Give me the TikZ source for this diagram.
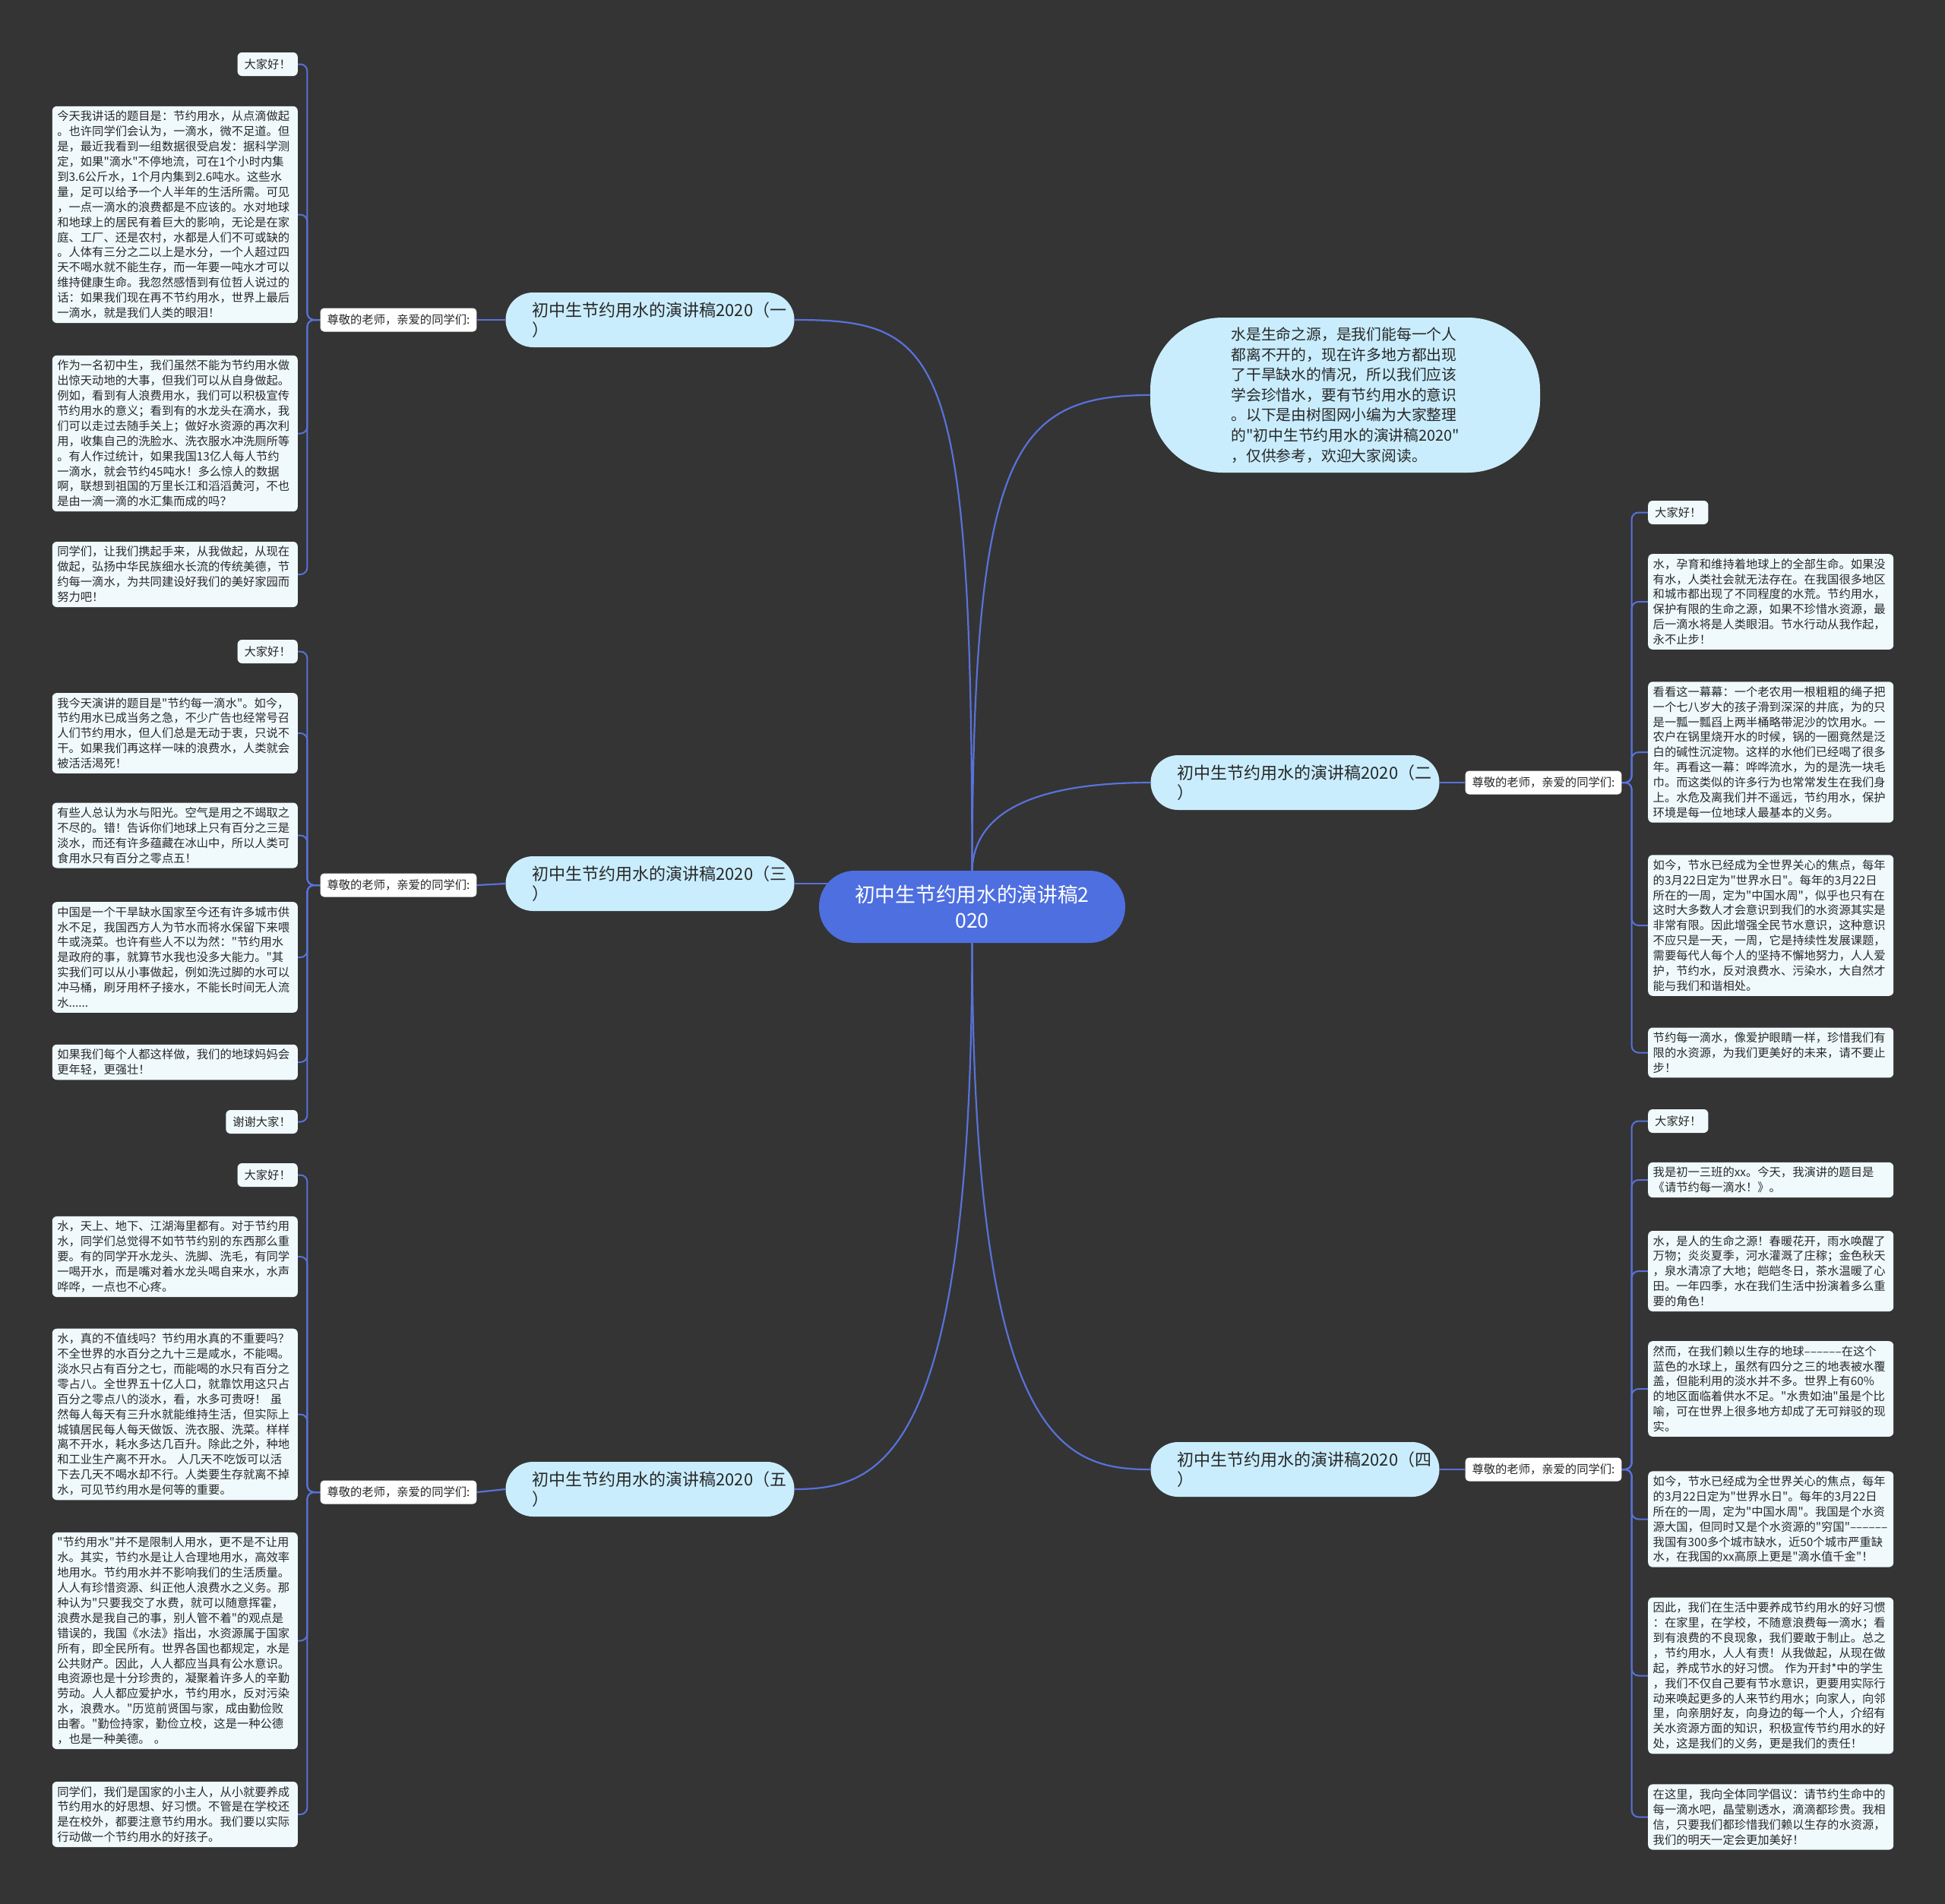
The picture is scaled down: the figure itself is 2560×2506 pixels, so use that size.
\documentclass[tikz,border=0pt]{standalone}
\usepackage{fontspec}
\newfontfamily\cjkfont{Noto Sans CJK SC}
\pgfdeclarelayer{back}
\pgfsetlayers{back,main}

\begin{document}
\begin{tikzpicture}[
  x=1pt, y=-1pt,
  rootnode/.style={fill=rootBlue, text=white, font=\cjkfont\fontsize{26.7}{34}\selectfont, align=center, text width=360pt, minimum width=403pt, minimum height=95pt, inner sep=0pt, rounded corners=47pt},
  topicnode/.style={fill=topicBlue, text=textDark, font=\cjkfont\fontsize{22}{26}\selectfont, align=left, text width=310pt, inner xsep=35pt, inner ysep=0pt, minimum height=72pt, rounded corners=36pt},
  intronode/.style={fill=topicBlue, text=textDark, font=\cjkfont\fontsize{19.8}{26.6}\selectfont, align=left, text width=300pt, minimum width=513pt, minimum height=204pt, inner sep=0pt, rounded corners=95pt},
  greetnode/.style={fill=white, text=textDark, font=\cjkfont\fontsize{15.3}{19}\selectfont, inner xsep=9pt, inner ysep=0pt, minimum height=31pt, rounded corners=5pt},
  leafnode/.style={fill=leafFill, text=textDark, font=\cjkfont\fontsize{15.3}{19.9}\selectfont, align=left, text width=310pt, inner xsep=6.5pt, inner ysep=6pt, rounded corners=6pt},
  shortleaf/.style={fill=leafFill, text=textDark, font=\cjkfont\fontsize{15.3}{19}\selectfont, inner xsep=9pt, inner ysep=0pt, minimum height=31pt, rounded corners=6pt},
  mainline/.style={draw=lineBlue, line width=2.2pt},
  leafline/.style={draw=lineBlue, line width=2pt, rounded corners=9pt},
]

\definecolor{bgGray}{RGB}{52,52,52}
\definecolor{rootBlue}{RGB}{78,111,224}
\definecolor{topicBlue}{RGB}{201,237,253}
\definecolor{leafFill}{RGB}{240,250,253}
\definecolor{lineBlue}{RGB}{88,114,218}
\definecolor{textDark}{RGB}{40,40,40}

\useasboundingbox (0,0) rectangle (2560,2506);

% Centre and introduction.
\node[rootnode] (root) at (1279.5,1193.5) {初中生节约用水的演讲稿2\\020};
\node[intronode] (intro) at (1770.5,520) {水是生命之源，是我们能每一个人\\都离不开的，现在许多地方都出现\\了干旱缺水的情况，所以我们应该\\学会珍惜水，要有节约用水的意识\\。以下是由树图网小编为大家整理\\的"初中生节约用水的演讲稿2020"\\，仅供参考，欢迎大家阅读。};

% Speech topics.
\node[topicnode] (topic1) at (855.5,421) {初中生节约用水的演讲稿2020（一\\）};
\node[topicnode] (topic2) at (1704.5,1030) {初中生节约用水的演讲稿2020（二\\）};
\node[topicnode] (topic3) at (855.5,1163) {初中生节约用水的演讲稿2020（三\\）};
\node[topicnode] (topic4) at (1704.5,1934) {初中生节约用水的演讲稿2020（四\\）};
\node[topicnode] (topic5) at (855.5,1960) {初中生节约用水的演讲稿2020（五\\）};

% Greetings.
\node[greetnode] (greet1) at (524.5,421) {尊敬的老师，亲爱的同学们:};
\node[greetnode] (greet2) at (2031.5,1030) {尊敬的老师，亲爱的同学们:};
\node[greetnode] (greet3) at (524.5,1165) {尊敬的老师，亲爱的同学们:};
\node[greetnode] (greet4) at (2031.5,1934) {尊敬的老师，亲爱的同学们:};
\node[greetnode] (greet5) at (524.5,1964) {尊敬的老师，亲爱的同学们:};

% Speech one.
\node[shortleaf, anchor=east] (s1a) at (392,84.5) {大家好！};
\node[leafnode, anchor=east] (s1b) at (392,282.5) {今天我讲话的题目是：节约用水，从点滴做起\\。也许同学们会认为，一滴水，微不足道。但\\是，最近我看到一组数据很受启发：据科学测\\定，如果"滴水"不停地流，可在1个小时内集\\到3.6公斤水，1个月内集到2.6吨水。这些水\\量，足可以给予一个人半年的生活所需。可见\\，一点一滴水的浪费都是不应该的。水对地球\\和地球上的居民有着巨大的影响，无论是在家\\庭、工厂、还是农村，水都是人们不可或缺的\\。人体有三分之二以上是水分，一个人超过四\\天不喝水就不能生存，而一年要一吨水才可以\\维持健康生命。我忽然感悟到有位哲人说过的\\话：如果我们现在再不节约用水，世界上最后\\一滴水，就是我们人类的眼泪！};
\node[leafnode, anchor=east] (s1c) at (392,570.5) {作为一名初中生，我们虽然不能为节约用水做\\出惊天动地的大事，但我们可以从自身做起。\\例如，看到有人浪费用水，我们可以积极宣传\\节约用水的意义；看到有的水龙头在滴水，我\\们可以走过去随手关上；做好水资源的再次利\\用，收集自己的洗脸水、洗衣服水冲洗厕所等\\。有人作过统计，如果我国13亿人每人节约\\一滴水，就会节约45吨水！多么惊人的数据\\啊，联想到祖国的万里长江和滔滔黄河，不也\\是由一滴一滴的水汇集而成的吗？};
\node[leafnode, anchor=east] (s1d) at (392,756) {同学们，让我们携起手来，从我做起，从现在\\做起，弘扬中华民族细水长流的传统美德，节\\约每一滴水，为共同建设好我们的美好家园而\\努力吧！};

% Speech three.
\node[shortleaf, anchor=east] (s3a) at (392,857.5) {大家好！};
\node[leafnode, anchor=east] (s3b) at (392,965) {我今天演讲的题目是"节约每一滴水"。如今，\\节约用水已成当务之急，不少广告也经常号召\\人们节约用水，但人们总是无动于衷，只说不\\干。如果我们再这样一味的浪费水，人类就会\\被活活渴死！};
\node[leafnode, anchor=east] (s3c) at (392,1099.5) {有些人总认为水与阳光。空气是用之不竭取之\\不尽的。错！告诉你们地球上只有百分之三是\\淡水，而还有许多蕴藏在冰山中，所以人类可\\食用水只有百分之零点五！};
\node[leafnode, anchor=east] (s3d) at (392,1260) {中国是一个干旱缺水国家至今还有许多城市供\\水不足，我国西方人为节水而将水保留下来喂\\牛或浇菜。也许有些人不以为然："节约用水\\是政府的事，就算节水我也没多大能力。"其\\实我们可以从小事做起，例如洗过脚的水可以\\冲马桶，刷牙用杯子接水，不能长时间无人流\\水......};
\node[leafnode, anchor=east] (s3e) at (392,1398) {如果我们每个人都这样做，我们的地球妈妈会\\更年轻，更强壮！};
\node[shortleaf, anchor=east] (s3f) at (392,1476.5) {谢谢大家！};

% Speech five.
\node[shortleaf, anchor=east] (s5a) at (392,1546.5) {大家好！};
\node[leafnode, anchor=east] (s5b) at (392,1654) {水，天上、地下、江湖海里都有。对于节约用\\水，同学们总觉得不如节节约别的东西那么重\\要。有的同学开水龙头、洗脚、洗毛，有同学\\一喝开水，而是嘴对着水龙头喝自来水，水声\\哗哗，一点也不心疼。};
\node[leafnode, anchor=east] (s5c) at (392,1861.5) {水，真的不值线吗？节约用水真的不重要吗？\\不全世界的水百分之九十三是咸水，不能喝。\\淡水只占有百分之七，而能喝的水只有百分之\\零占八。全世界五十亿人口，就靠饮用这只占\\百分之零点八的淡水，看，水多可贵呀！\ 虽\\然每人每天有三升水就能维持生活，但实际上\\城镇居民每人每天做饭、洗衣服、洗菜。样样\\离不开水，耗水多达几百升。除此之外，种地\\和工业生产离不开水。\ 人几天不吃饭可以活\\下去几天不喝水却不行。人类要生存就离不掉\\水，可见节约用水是何等的重要。};
\node[leafnode, anchor=east] (s5d) at (392,2159.5) {"节约用水"并不是限制人用水，更不是不让用\\水。其实，节约水是让人合理地用水，高效率\\地用水。节约用水并不影响我们的生活质量。\\人人有珍惜资源、纠正他人浪费水之义务。那\\种认为"只要我交了水费，就可以随意挥霍，\\浪费水是我自己的事，别人管不着"的观点是\\错误的，我国《水法》指出，水资源属于国家\\所有，即全民所有。世界各国也都规定，水是\\公共财产。因此，人人都应当具有公水意识。\\电资源也是十分珍贵的，凝聚着许多人的辛勤\\劳动。人人都应爱护水，节约用水，反对污染\\水，浪费水。"历览前贤国与家，成由勤俭败\\由奢。"勤俭持家，勤俭立校，这是一种公德\\，也是一种美德。\ 。};
\node[leafnode, anchor=east] (s5e) at (392,2388) {同学们，我们是国家的小主人，从小就要养成\\节约用水的好思想、好习惯。不管是在学校还\\是在校外，都要注意节约用水。我们要以实际\\行动做一个节约用水的好孩子。};

% Speech two.
\node[shortleaf, anchor=west] (s2a) at (2169,674.5) {大家好！};
\node[leafnode, anchor=west] (s2b) at (2169,792) {水，孕育和维持着地球上的全部生命。如果没\\有水，人类社会就无法存在。在我国很多地区\\和城市都出现了不同程度的水荒。节约用水，\\保护有限的生命之源，如果不珍惜水资源，最\\后一滴水将是人类眼泪。节水行动从我作起，\\永不止步！};
\node[leafnode, anchor=west] (s2c) at (2169,990) {看看这一幕幕：一个老农用一根粗粗的绳子把\\一个七八岁大的孩子滑到深深的井底，为的只\\是一瓢一瓢舀上两半桶略带泥沙的饮用水。一\\农户在锅里烧开水的时候，锅的一圈竟然是泛\\白的碱性沉淀物。这样的水他们已经喝了很多\\年。再看这一幕：哗哗流水，为的是洗一块毛\\巾。而这类似的许多行为也常常发生在我们身\\上。水危及离我们并不遥远，节约用水，保护\\环境是每一位地球人最基本的义务。};
\node[leafnode, anchor=west] (s2d) at (2169,1218) {如今，节水已经成为全世界关心的焦点，每年\\的3月22日定为"世界水日"。每年的3月22日\\所在的一周，定为"中国水周"，似乎也只有在\\这时大多数人才会意识到我们的水资源其实是\\非常有限。因此增强全民节水意识，这种意识\\不应只是一天，一周，它是持续性发展课题，\\需要每代人每个人的坚持不懈地努力，人人爱\\护，节约水，反对浪费水、污染水，大自然才\\能与我们和谐相处。};
\node[leafnode, anchor=west] (s2e) at (2169,1385.5) {节约每一滴水，像爱护眼睛一样，珍惜我们有\\限的水资源，为我们更美好的未来，请不要止\\步！};

% Speech four.
\node[shortleaf, anchor=west] (s4a) at (2169,1475.5) {大家好！};
\node[leafnode, anchor=west] (s4b) at (2169,1553) {我是初一三班的xx。今天，我演讲的题目是\\《请节约每一滴水！》。};
\node[leafnode, anchor=west] (s4c) at (2169,1673) {水，是人的生命之源！春暖花开，雨水唤醒了\\万物；炎炎夏季，河水灌溉了庄稼；金色秋天\\，泉水清凉了大地；皑皑冬日，茶水温暖了心\\田。一年四季，水在我们生活中扮演着多么重\\要的角色！};
\node[leafnode, anchor=west] (s4d) at (2169,1828) {然而，在我们赖以生存的地球\mbox{––––––}在这个\\蓝色的水球上，虽然有四分之三的地表被水覆\\盖，但能利用的淡水并不多。世界上有60\%\\的地区面临着供水不足。"水贵如油"虽是个比\\喻，可在世界上很多地方却成了无可辩驳的现\\实。};
\node[leafnode, anchor=west] (s4e) at (2169,1999.5) {如今，节水已经成为全世界关心的焦点，每年\\的3月22日定为"世界水日"。每年的3月22日\\所在的一周，定为"中国水周"。我国是个水资\\源大国，但同时又是个水资源的"穷国"\mbox{––––––}\\我国有300多个城市缺水，近50个城市严重缺\\水，在我国的xx高原上更是"滴水值千金"！};
\node[leafnode, anchor=west] (s4f) at (2169,2205.5) {因此，我们在生活中要养成节约用水的好习惯\\：在家里，在学校，不随意浪费每一滴水；看\\到有浪费的不良现象，我们要敢于制止。总之\\，节约用水，人人有责！从我做起，从现在做\\起，养成节水的好习惯。\ 作为开封*中的学生\\，我们不仅自己要有节水意识，更要用实际行\\动来唤起更多的人来节约用水；向家人，向邻\\里，向亲朋好友，向身边的每一个人，介绍有\\关水资源方面的知识，积极宣传节约用水的好\\处，这是我们的义务，更是我们的责任！};
\node[leafnode, anchor=west] (s4g) at (2169,2391.5) {在这里，我向全体同学倡议：请节约生命中的\\每一滴水吧，晶莹剔透水，滴滴都珍贵。我相\\信，只要我们都珍惜我们赖以生存的水资源，\\我们的明天一定会更加美好！};

\begin{pgfonlayer}{back}
% Backdrop.
\fill[bgGray] (0,0) rectangle (2560,2506);

% Centre to topics.
\draw[mainline] (root.north) .. controls (1279,460) and (1240,421) .. (topic1.east);
\draw[mainline] (root.north) .. controls (1281,600) and (1330,520) .. (intro.west);
\draw[mainline] (root.north) .. controls (1282,1060) and (1380,1030) .. (topic2.west);
\draw[mainline] (topic3.east) -- ([xshift=30pt]root.west |- topic3.east);
\draw[mainline] (root.south) .. controls (1281,1900) and (1400,1934) .. (topic4.west);
\draw[mainline] (root.south) .. controls (1279,1920) and (1160,1960) .. (topic5.east);

% Topics to greetings.
\foreach \t in {1,3,5} \draw[mainline] (topic\t.west) -- (greet\t.east);
\foreach \t in {2,4} \draw[mainline] (topic\t.east) -- (greet\t.west);

% Greetings to paragraphs.
\foreach \leaf in {s1a,s1b,s1c,s1d}
  \draw[leafline] (greet1.west) -- ++(-17,0) |- (\leaf.east);
\foreach \leaf in {s3a,s3b,s3c,s3d,s3e,s3f}
  \draw[leafline] (greet3.west) -- ++(-17,0) |- (\leaf.east);
\foreach \leaf in {s5a,s5b,s5c,s5d,s5e}
  \draw[leafline] (greet5.west) -- ++(-17,0) |- (\leaf.east);
\foreach \leaf in {s2a,s2b,s2c,s2d,s2e}
  \draw[leafline] (greet2.east) -- ++(13,0) |- (\leaf.west);
\foreach \leaf in {s4a,s4b,s4c,s4d,s4e,s4f,s4g}
  \draw[leafline] (greet4.east) -- ++(13,0) |- (\leaf.west);
\end{pgfonlayer}

\end{tikzpicture}
\end{document}
